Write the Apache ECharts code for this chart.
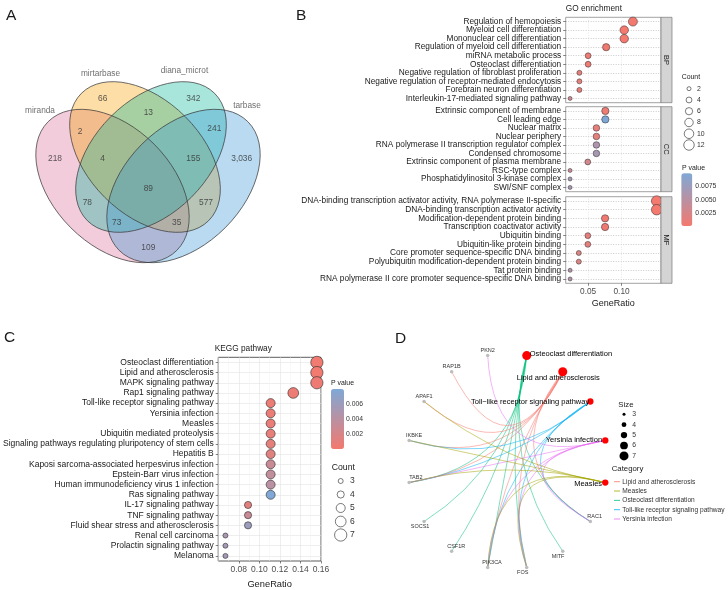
<!DOCTYPE html>
<html><head><meta charset="utf-8">
<script src="https://cdn.jsdelivr.net/npm/echarts@6/dist/echarts.min.js"></script>
<style>html,body{margin:0;padding:0;background:#fff}#c{width:728px;height:590px}</style>
</head><body><div id="c"></div>
<script>
// ================= DATA =================
// Panel A - Venn
const vennSets = ['miranda', 'mirtarbase', 'diana_microt', 'tarbase'];
const vennRegions = ['1', '2', '3', '4', '12', '23', '34', '123', '234', '1234', '13', '24', '134', '124', '14'];
const vennCounts = [218, 66, 342, 3036, 2, 13, 241, 4, 155, 89, 78, 577, 73, 35, 109];

// Panel B - GO enrichment
const goBPTerms = ['Regulation of hemopoiesis', 'Myeloid cell differentiation', 'Mononuclear cell differentiation', 'Regulation of myeloid cell differentiation', 'miRNA metabolic process', 'Osteoclast differentiation', 'Negative regulation of fibroblast proliferation', 'Negative regulation of receptor-mediated endocytosis', 'Forebrain neuron differentiation', 'Interleukin-17-mediated signaling pathway'];
const goBPRatio = [0.117, 0.104, 0.104, 0.077, 0.050, 0.050, 0.037, 0.037, 0.037, 0.023];
const goBPCount = [9, 8, 8, 6, 4, 4, 3, 3, 3, 2];
const goBPP = [0.0003, 0.0002, 0.0002, 0.0005, 0.0008, 0.0008, 0.0015, 0.0015, 0.0015, 0.0035];

const goCCTerms = ['Extrinsic component of membrane', 'Cell leading edge', 'Nuclear matrix', 'Nuclear periphery', 'RNA polymerase II transcription regulator complex', 'Condensed chromosome', 'Extrinsic component of plasma membrane', 'RSC-type complex', 'Phosphatidylinositol 3-kinase complex', 'SWI/SNF complex'];
const goCCRatio = [0.0758, 0.0758, 0.0624, 0.0624, 0.0624, 0.0624, 0.0495, 0.023, 0.023, 0.023];
const goCCCount = [6, 6, 5, 5, 5, 5, 4, 2, 2, 2];
const goCCP = [0.0008, 0.0098, 0.0012, 0.0015, 0.0060, 0.0065, 0.0030, 0.0040, 0.0065, 0.0065];

const goMFTerms = ['DNA-binding transcription activator activity, RNA polymerase II-specific', 'DNA-binding transcription activator activity', 'Modification-dependent protein binding', 'Transcription coactivator activity', 'Ubiquitin binding', 'Ubiquitin-like protein binding', 'Core promoter sequence-specific DNA binding', 'Polyubiquitin modification-dependent protein binding', 'Tat protein binding', 'RNA polymerase II core promoter sequence-specific DNA binding'];
const goMFRatio = [0.1525, 0.1525, 0.0754, 0.0754, 0.0496, 0.0496, 0.0361, 0.0361, 0.0231, 0.0231];
const goMFCount = [12, 12, 6, 6, 4, 4, 3, 3, 2, 2];
const goMFP = [0.0002, 0.0002, 0.0005, 0.0005, 0.0015, 0.0015, 0.0022, 0.0022, 0.0055, 0.0055];

const goFacets = ['BP', 'CC', 'MF'];
const goXTicks = [0.05, 0.10];
const goCountLegend = [2, 4, 6, 8, 10, 12];
const goPTicks = [0.0025, 0.0050, 0.0075];

// Panel C - KEGG
const keggTerms = ['Osteoclast differentiation', 'Lipid and atherosclerosis', 'MAPK signaling pathway', 'Rap1 signaling pathway', 'Toll-like receptor signaling pathway', 'Yersinia infection', 'Measles', 'Ubiquitin mediated proteolysis', 'Signaling pathways regulating pluripotency of stem cells', 'Hepatitis B', 'Kaposi sarcoma-associated herpesvirus infection', 'Epstein-Barr virus infection', 'Human immunodeficiency virus 1 infection', 'Ras signaling pathway', 'IL-17 signaling pathway', 'TNF signaling pathway', 'Fluid shear stress and atherosclerosis', 'Renal cell carcinoma', 'Prolactin signaling pathway', 'Melanoma'];
const keggRatio = [0.156, 0.156, 0.156, 0.133, 0.111, 0.111, 0.111, 0.111, 0.111, 0.111, 0.111, 0.111, 0.111, 0.111, 0.089, 0.089, 0.089, 0.067, 0.067, 0.067];
const keggCount = [7, 7, 7, 6, 5, 5, 5, 5, 5, 5, 5, 5, 5, 5, 4, 4, 4, 3, 3, 3];
const keggP = [0.0002, 0.0002, 0.0004, 0.0005, 0.0005, 0.0006, 0.0007, 0.0009, 0.0011, 0.0014, 0.0030, 0.0035, 0.0040, 0.0079, 0.0012, 0.0030, 0.0060, 0.0052, 0.0055, 0.0055];
const keggCountLegend = [3, 4, 5, 6, 7];
const keggPTicks = [0.002, 0.004, 0.006];

// Panel D - gene-concept network
const dCategories = ['Osteoclast differentiation', 'Lipid and atherosclerosis', 'Toll-like receptor signaling pathway', 'Yersinia infection', 'Measles'];
const dCategoryCount = [7, 7, 5, 5, 5];
const dGenes = ['RAC1', 'MITF', 'FOS', 'PIK3CA', 'CSF1R', 'SOCS1', 'TAB2', 'IKBKE', 'APAF1', 'RAP1B', 'PKN2'];
const dOsteoclastGenes = ['TAB2', 'SOCS1', 'CSF1R', 'PIK3CA', 'FOS', 'MITF', 'RAC1'];
const dLipidGenes = ['RAP1B', 'APAF1', 'IKBKE', 'TAB2', 'PIK3CA', 'FOS', 'RAC1'];
const dTollGenes = ['IKBKE', 'TAB2', 'PIK3CA', 'FOS', 'RAC1'];
const dYersiniaGenes = ['PKN2', 'TAB2', 'PIK3CA', 'FOS', 'RAC1'];
const dMeaslesGenes = ['APAF1', 'IKBKE', 'TAB2', 'PIK3CA', 'FOS'];
const dLegendCategories = ['Lipid and atherosclerosis', 'Measles', 'Osteoclast differentiation', 'Toll-like receptor signaling pathway', 'Yersinia infection'];
const dSizeLegend = [3, 4, 5, 6, 7];

// ================= LAYOUT / STYLE =================
const FONT = '"Liberation Sans", Arial, Helvetica, sans-serif';
const vennLayout = {
  ellipses: [
    {cx: 112.5, cy: 186, a: 91, b: 59, rot: -45, fill: 'rgba(218,109,149,0.35)'},
    {cx: 145, cy: 157, a: 90, b: 57, rot: -45, fill: 'rgba(246,161,0,0.35)'},
    {cx: 151, cy: 157, a: 90, b: 57, rot: 45, fill: 'rgba(6,184,155,0.35)'},
    {cx: 183.5, cy: 186, a: 91, b: 59, rot: 45, fill: 'rgba(55,149,212,0.35)'}
  ],
  regionAnchors: [[55,158.3],[102.7,98.3],[193.3,98.3],[241.7,158.3],[80,131.7],[148.3,112.7],[214.3,128.3],[102.7,158.3],[193.3,158.3],[148.3,188.3],[87.3,202.3],[206,202.3],[116.7,222.7],[176.7,222.7],[148.3,247.3]],
  setAnchors: [[40,111],[100.5,73.3],[184.5,71],[247,106]]
};
const bBox = {left: 565.7, width: 95.3, panels: [{top: 17.3, h: 85.4}, {top: 106.7, h: 85}, {top: 196.7, h: 86.6}], xMin: 0.0165, xMax: 0.159};
const cBox = {left: 214.7, top: 357.3, width: 106.3, height: 206, xMin: 0.06, xMax: 0.16};
const pLow = '#F4796E', pHigh = '#7FA8D6';
const hue5 = {'Lipid and atherosclerosis': '#F8766D', 'Measles': '#A3A500', 'Osteoclast differentiation': '#00BF7D', 'Toll-like receptor signaling pathway': '#00B0F6', 'Yersinia infection': '#E76BF3'};
const bSize = n => 4 + (Math.sqrt(n) - Math.sqrt(2)) * 3.17;
const cSize = n => 5 + (Math.sqrt(n) - Math.sqrt(3)) * 7.99;
const dSize = n => 3 + (Math.sqrt(n) - Math.sqrt(3)) * 6.6;

// ================= BUILD =================
const chart = echarts.init(document.getElementById('c'), null, {renderer: 'canvas', width: 728, height: 590});
const grids = [], xAxes = [], yAxes = [], series = [], graphics = [];
function txt(x, y, s, size, o) {
  o = o || {};
  graphics.push({type: 'text', x: x, y: y, rotation: o.rot || 0, z: 100, silent: true,
    style: {text: s, fontSize: size, fontFamily: FONT, fill: o.fill || '#1a1a1a', align: o.align || 'left', verticalAlign: o.va || 'middle', fontWeight: o.weight || 'normal'}});
}

// ---- Panel A: Venn ----
grids.push({left: 0, top: 0, width: 300, height: 300, show: false});
xAxes.push({gridIndex: 0, type: 'value', min: 0, max: 300, show: false});
yAxes.push({gridIndex: 0, type: 'value', min: 0, max: 300, inverse: true, show: false});
function ellipseItem(api, stroke) {
  const e = vennLayout.ellipses[api.value(0)];
  const c = api.coord([e.cx, e.cy]);
  const s = api.size([e.a, e.b]);
  return {type: 'ellipse', x: c[0], y: c[1], rotation: e.rot * Math.PI / 180,
    shape: {cx: 0, cy: 0, rx: s[0], ry: s[1]},
    style: stroke ? {fill: 'none', stroke: '#3a3a3a', lineWidth: 0.7} : {fill: e.fill, stroke: 'none'}};
}
series.push({type: 'custom', xAxisIndex: 0, yAxisIndex: 0, silent: true, data: vennSets.map((s, i) => [i]), renderItem: (p, api) => ellipseItem(api, false), z: 1});
series.push({type: 'custom', xAxisIndex: 0, yAxisIndex: 0, silent: true, data: vennSets.map((s, i) => [i]), renderItem: (p, api) => ellipseItem(api, true), z: 2});
series.push({type: 'scatter', xAxisIndex: 0, yAxisIndex: 0, silent: true, symbolSize: 0, z: 3,
  data: vennRegions.map((r, i) => [vennLayout.regionAnchors[i][0], vennLayout.regionAnchors[i][1], vennCounts[i]]),
  label: {show: true, position: 'inside', fontSize: 8.4, fontFamily: FONT, color: '#333', formatter: p => p.value[2].toLocaleString('en-US')}});
series.push({type: 'scatter', xAxisIndex: 0, yAxisIndex: 0, silent: true, symbolSize: 0, z: 3,
  data: vennSets.map((s, i) => ({value: vennLayout.setAnchors[i], name: s})),
  label: {show: true, position: 'inside', fontSize: 8.3, fontFamily: FONT, color: '#4a4a4a', formatter: p => p.name}});

// ---- Panel B: GO facets ----
const goData = [[goBPTerms, goBPRatio, goBPCount, goBPP], [goCCTerms, goCCRatio, goCCCount, goCCP], [goMFTerms, goMFRatio, goMFCount, goMFP]];
const bSeriesIdx = [];
goData.forEach((d, k) => {
  const pnl = bBox.panels[k];
  const gi = grids.length;
  grids.push({left: bBox.left, top: pnl.top, width: bBox.width, height: pnl.h, show: true, borderColor: '#7a7a7a', borderWidth: 0.7, backgroundColor: '#fff'});
  const last = k === 2;
  xAxes.push({gridIndex: gi, type: 'value', min: bBox.xMin, max: bBox.xMax,
    axisLine: {show: false},
    axisTick: {show: last, length: 2.5, customValues: goXTicks, lineStyle: {color: '#333', width: 0.6}},
    axisLabel: {show: last, customValues: goXTicks, fontSize: 8.3, fontFamily: FONT, color: '#4d4d4d', margin: 4, formatter: v => v.toFixed(2)},
    splitLine: {show: true, customValues: goXTicks, lineStyle: {color: '#d6d6d6', width: 0.6, type: [1, 1.5]}},
    name: last ? 'GeneRatio' : '', nameLocation: 'middle', nameGap: 16, nameTextStyle: {fontSize: 9, fontFamily: FONT, color: '#1a1a1a'}});
  yAxes.push({gridIndex: gi, type: 'category', data: d[0], inverse: true,
    axisLine: {show: false},
    axisTick: {show: true, alignWithLabel: true, length: 2.5, lineStyle: {color: '#333', width: 0.6}},
    axisLabel: {interval: 0, fontSize: 8.3, fontFamily: FONT, color: '#1a1a1a', margin: 4.5},
    splitLine: {show: true, alignWithLabel: true, lineStyle: {color: '#a8a8a8', width: 0.6, type: [1, 1.5]}}});
  bSeriesIdx.push(series.length);
  series.push({type: 'scatter', xAxisIndex: gi, yAxisIndex: gi, silent: true, z: 5,
    data: d[0].map((t, i) => [d[1][i], t, d[2][i], d[3][i]]),
    symbolSize: v => bSize(v[2]),
    itemStyle: {borderColor: '#2b2b2b', borderWidth: 0.5, opacity: 1}});
  graphics.push({type: 'rect', z: 50, silent: true, shape: {x: bBox.left + bBox.width, y: pnl.top, width: 11, height: pnl.h}, style: {fill: '#d4d4d4', stroke: '#7a7a7a', lineWidth: 0.7}});
  txt(bBox.left + bBox.width + 5.5, pnl.top + pnl.h / 2, goFacets[k], 7.5, {align: 'center', rot: -Math.PI / 2});
});
txt(bBox.left, 9, 'GO enrichment', 8.3, {});
txt(681.7, 77.3, 'Count', 6.9, {});
goCountLegend.forEach((n, i) => {
  const y = 88.7 + i * 11.26;
  graphics.push({type: 'circle', z: 60, silent: true, shape: {cx: 689, cy: y, r: bSize(n) / 2}, style: {fill: 'none', stroke: '#222', lineWidth: 0.6}});
  txt(697, y, String(n), 6.9, {fill: '#333'});
});
txt(682, 168.3, 'P value', 6.9, {});
const bVM = {min: 0.0002, max: 0.0098, left: 681.3, top: 173.3, w: 11, h: 52.7};
goPTicks.forEach(v => {
  const y = bVM.top + (bVM.max - v) / (bVM.max - bVM.min) * bVM.h;
  txt(bVM.left + bVM.w + 3, y, v.toFixed(4), 6.9, {fill: '#333'});
});

// ---- Panel C: KEGG ----
const cg = grids.length;
grids.push({left: cBox.left, top: cBox.top, width: cBox.width, height: cBox.height, show: true, borderColor: '#333', borderWidth: 0.8, backgroundColor: '#fff'});
xAxes.push({gridIndex: cg, type: 'value', min: cBox.xMin, max: cBox.xMax, interval: 0.02,
  axisLine: {show: false},
  axisTick: {show: true, length: 2.5, lineStyle: {color: '#333', width: 0.6}},
  axisLabel: {showMinLabel: false, fontSize: 8.5, fontFamily: FONT, color: '#4d4d4d', margin: 4, formatter: v => v.toFixed(2)},
  minorTick: {show: false, splitNumber: 2},
  splitLine: {show: true, lineStyle: {color: '#e3e3e3', width: 0.6}},
  minorSplitLine: {show: true, lineStyle: {color: '#f0f0f0', width: 0.5}},
  name: 'GeneRatio', nameLocation: 'middle', nameGap: 19, nameTextStyle: {fontSize: 9.3, fontFamily: FONT, color: '#1a1a1a'}});
yAxes.push({gridIndex: cg, type: 'category', data: keggTerms, inverse: true,
  axisLine: {show: false},
  axisTick: {show: true, alignWithLabel: true, length: 2.5, lineStyle: {color: '#333', width: 0.6}},
  axisLabel: {interval: 0, fontSize: 8.5, fontFamily: FONT, color: '#1a1a1a', margin: 4.5},
  splitLine: {show: true, alignWithLabel: true, lineStyle: {color: '#e3e3e3', width: 0.6}}});
const cSeriesIdx = series.length;
series.push({type: 'scatter', xAxisIndex: cg, yAxisIndex: cg, silent: true, z: 5,
  data: keggTerms.map((t, i) => [keggRatio[i], t, keggCount[i], keggP[i]]),
  symbolSize: v => cSize(v[2]),
  itemStyle: {borderColor: '#2b2b2b', borderWidth: 0.6, opacity: 1}});
txt(cBox.left, 348.3, 'KEGG pathway', 8.3, {});
txt(331, 383.3, 'P value', 6.9, {});
const cVM = {min: 0, max: 0.008, left: 331, top: 389, w: 13, h: 60};
keggPTicks.forEach(v => {
  const y = cVM.top + (cVM.max - v) / (cVM.max - cVM.min) * cVM.h;
  txt(cVM.left + cVM.w + 2, y, v.toFixed(3), 6.8, {fill: '#333'});
});
txt(331.7, 467.7, 'Count', 8.7, {});
keggCountLegend.forEach((n, i) => {
  const y = 481 + i * 13.5;
  graphics.push({type: 'circle', z: 60, silent: true, shape: {cx: 340.7, cy: y, r: cSize(n) / 2}, style: {fill: 'none', stroke: '#222', lineWidth: 0.6}});
  txt(350, y, String(n), 8.5, {fill: '#333'});
});

// ---- Panel D: network ----
const dNodes = dCategories.concat(dGenes);
const dC = {cx: 507.2, cy: 461.5, rx: 100, ry: 108, start: -78.75};
const pos = {};
dNodes.forEach((n, i) => {
  const a = (dC.start + i * 360 / dNodes.length) * Math.PI / 180;
  pos[n] = [dC.cx + dC.rx * Math.cos(a), dC.cy + dC.ry * Math.sin(a)];
});
const dLabel = {
  'Osteoclast differentiation': {position: 'right', distance: -1.5, offset: [0, -1.5]},
  'Lipid and atherosclerosis': {position: 'inside', offset: [-4.5, 6.5]},
  'Toll-like receptor signaling pathway': {position: 'left', distance: -2},
  'Yersinia infection': {position: 'left', distance: 0},
  'Measles': {position: 'left', distance: 0, offset: [0, 1]},
  'RAC1': {position: 'top', dx: 4.3}, 'MITF': {position: 'bottom', dx: -4.7}, 'FOS': {position: 'bottom', dx: -4},
  'PIK3CA': {position: 'top', dx: 4.3}, 'CSF1R': {position: 'top', dx: 4.6}, 'SOCS1': {position: 'bottom', dx: -4},
  'TAB2': {position: 'top', dx: 6.7}, 'IKBKE': {position: 'top', dx: 5}, 'APAF1': {position: 'top', dx: 0},
  'RAP1B': {position: 'top', dx: 0}, 'PKN2': {position: 'top', dx: 0}
};
const xs = dNodes.map(n => pos[n][0]), ys = dNodes.map(n => pos[n][1]);
const bx = {x: Math.min(...xs), y: Math.min(...ys)};
bx.w = Math.max(...xs) - bx.x; bx.h = Math.max(...ys) - bx.y;
const gNodes = dNodes.map(n => {
  const isCat = dCategories.indexOf(n) >= 0;
  const L = dLabel[n];
  const label = isCat
    ? {show: true, position: L.position, distance: L.distance || 0, offset: L.offset || [0, 0], fontSize: 7.5, fontFamily: FONT, color: '#000', formatter: p => p.name.replace('-', '\u2212')}
    : {show: true, position: L.position, distance: 0.5, offset: [L.dx, 0], fontSize: 5.5, fontFamily: FONT, color: '#333'};
  return {name: n, x: pos[n][0], y: pos[n][1],
    symbolSize: isCat ? dSize(dCategoryCount[dCategories.indexOf(n)]) : 3.5,
    itemStyle: {color: isCat ? '#FF0000' : '#BDBDBD'}, label: label};
});
const geneSets = [['Osteoclast differentiation', dOsteoclastGenes], ['Lipid and atherosclerosis', dLipidGenes], ['Toll-like receptor signaling pathway', dTollGenes], ['Yersinia infection', dYersiniaGenes], ['Measles', dMeaslesGenes]];
const gLinks = [];
geneSets.forEach(([cat, genes]) => genes.forEach(g => {
  const p1 = pos[cat], p2 = pos[g];
  const mid = [(p1[0] + p2[0]) / 2, (p1[1] + p2[1]) / 2];
  const nv = [p2[1] - p1[1], p1[0] - p2[0]];
  const L2 = nv[0] * nv[0] + nv[1] * nv[1];
  const cv = 1.2 * ((dC.cx - mid[0]) * nv[0] + (dC.cy - mid[1]) * nv[1]) / L2;
  gLinks.push({source: cat, target: g, lineStyle: {color: hue5[cat], curveness: cv}});
}));
series.push({type: 'graph', layout: 'none', left: bx.x, top: bx.y, width: bx.w, height: bx.h, roam: false, silent: true, z: 5,
  data: gNodes, links: gLinks, lineStyle: {width: 0.6, opacity: 0.85}, emphasis: {disabled: true}});
txt(618.3, 404.7, 'Size', 7.8, {});
dSizeLegend.forEach((n, i) => {
  const y = 414.3 + i * 10.4;
  graphics.push({type: 'circle', z: 60, silent: true, shape: {cx: 624, cy: y, r: dSize(n) / 2}, style: {fill: '#000'}});
  txt(632.3, y, String(n), 6.8, {fill: '#333'});
});
txt(611.7, 469.3, 'Category', 7.8, {});
dLegendCategories.forEach((c, i) => {
  const y = 481.7 + i * 9.33;
  graphics.push({type: 'line', z: 60, silent: true, shape: {x1: 614, y1: y, x2: 620, y2: y}, style: {stroke: hue5[c], lineWidth: 0.8}});
  txt(622.3, y, c, 6.6, {fill: '#333'});
});

// panel letters
txt(6, 15.3, 'A', 15.5, {});
txt(296, 15.3, 'B', 15.5, {});
txt(4, 338, 'C', 15.5, {});
txt(395, 339, 'D', 15.5, {});

chart.setOption({
  animation: false,
  textStyle: {fontFamily: FONT},
  grid: grids, xAxis: xAxes, yAxis: yAxes, series: series,
  visualMap: [
    {type: 'continuous', seriesIndex: bSeriesIdx, dimension: 3, min: bVM.min, max: bVM.max, inRange: {color: [pLow, pHigh]},
      orient: 'vertical', left: bVM.left, top: bVM.top, itemWidth: bVM.w, itemHeight: bVM.h, padding: 0, calculable: false, text: null, hoverLink: false},
    {type: 'continuous', seriesIndex: [cSeriesIdx], dimension: 3, min: cVM.min, max: cVM.max, inRange: {color: [pLow, pHigh]},
      orient: 'vertical', left: cVM.left, top: cVM.top, itemWidth: cVM.w, itemHeight: cVM.h, padding: 0, calculable: false, text: null, hoverLink: false}
  ],
  graphic: {elements: graphics}
});
</script>
</body></html>
